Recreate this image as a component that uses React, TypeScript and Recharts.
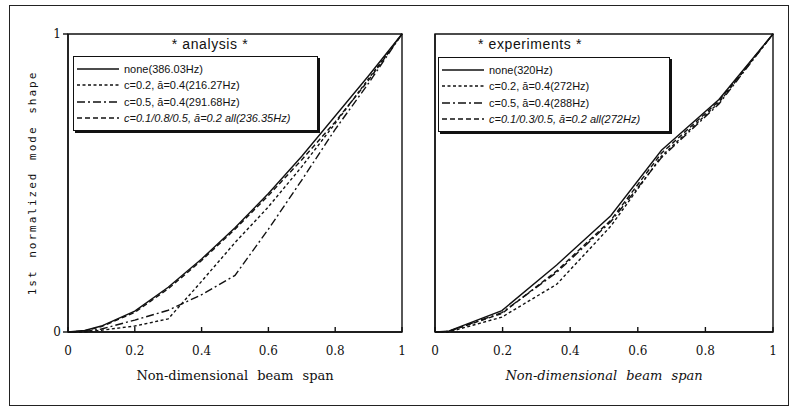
import { LineChart, Line, XAxis, YAxis, ReferenceArea, Legend } from "recharts";

// analysis (left panel)
const spanA = [0, 0.05, 0.1, 0.2, 0.3, 0.4, 0.5, 0.6, 0.7, 0.8, 0.9, 1];
const noneA = [0, 0.005, 0.02, 0.07, 0.15, 0.245, 0.35, 0.465, 0.59, 0.725, 0.86, 1];
const c02A = [0, 0, 0.006, 0.02, 0.044, 0.17, 0.3, 0.42, 0.555, 0.7, 0.85, 1];
const c05A = [0, 0.002, 0.01, 0.04, 0.073, 0.125, 0.19, 0.345, 0.51, 0.68, 0.835, 1];
const allA = [0, 0.004, 0.018, 0.066, 0.145, 0.24, 0.345, 0.458, 0.578, 0.705, 0.845, 1];

// experiments (right panel), measured stations
const spanE = [0, 0.04, 0.198, 0.36, 0.52, 0.67, 0.84, 1];
const noneE = [0, 0.003, 0.072, 0.225, 0.39, 0.61, 0.78, 1];
const c02E = [0, 0, 0.05, 0.16, 0.355, 0.59, 0.77, 1];
const c05E = [0, 0.002, 0.065, 0.2, 0.37, 0.585, 0.765, 1];
const allE = [0, 0.002, 0.062, 0.205, 0.375, 0.6, 0.775, 1];

const labelsA = ["none(386.03Hz)", "c=0.2, ā=0.4(216.27Hz)", "c=0.5, ā=0.4(291.68Hz)", "c=0.1/0.8/0.5, ā=0.2 all(236.35Hz)"];
const labelsE = ["none(320Hz)", "c=0.2, ā=0.4(272Hz)", "c=0.5, ā=0.4(288Hz)", "c=0.1/0.3/0.5, ā=0.2 all(272Hz)"];

const xTicks = [0, 0.2, 0.4, 0.6, 0.8, 1];
const yTicks = [0, 1];

const keys = ["none", "c02", "c05", "all"];
const dashes: (string | undefined)[] = [undefined, "3 2.5", "8 3 2 3", "5 3"];
const INK = "#111";

function rows(span: number[], cols: number[][]) {
  return span.map((x, i) => {
    const r: Record<string, number> = { x };
    keys.forEach((k, j) => (r[k] = cols[j][i]));
    return r;
  });
}

const dataA = rows(spanA, [noneA, c02A, c05A, allA]);
const dataE = rows(spanE, [noneE, c02E, c05E, allE]);

function LegendBox({ labels, width }: { labels: string[]; width: number }) {
  return (
    <div
      style={{
        width,
        boxSizing: "border-box",
        border: `1.2px solid ${INK}`,
        boxShadow: `2px 2px 0 ${INK}`,
        background: "#fff",
        padding: "4px 0 4px 3px",
        fontFamily: "Liberation Sans",
        fontSize: 11,
        color: INK,
      }}
    >
      {labels.map((l, i) => (
        <div key={l} style={{ display: "flex", alignItems: "center", height: 16.3 }}>
          <svg width={42} height={6}>
            <line x1={0} y1={3} x2={42} y2={3} stroke={INK} strokeWidth={1.4} strokeDasharray={dashes[i]} />
          </svg>
          <span style={{ marginLeft: 5, fontStyle: i === 3 ? "italic" : "normal", whiteSpace: "nowrap" }}>{l}</span>
        </div>
      ))}
    </div>
  );
}

const tickStyle = { fill: INK, fontFamily: "DejaVu Serif", fontSize: 12 };

function Panel({
  data,
  labels,
  left,
  width,
  showY,
  italicX,
  legendPos,
  legendWidth,
}: {
  data: Record<string, number>[];
  labels: string[];
  left: number;
  width: number;
  showY: boolean;
  italicX: boolean;
  legendPos: { left: number; top: number };
  legendWidth: number;
}) {
  return (
    <div style={{ position: "absolute", left, top: 0 }}>
      <LineChart width={width} height={400} data={data} margin={{ top: 34, right: 18, bottom: 0, left: 28 }}>
        <XAxis
          dataKey="x"
          type="number"
          domain={[0, 1]}
          ticks={xTicks}
          height={68}
          stroke={INK}
          strokeWidth={1.4}
          tickSize={-5}
          tickMargin={19}
          tick={tickStyle}
          label={{
            value: "Non-dimensional beam span",
            position: "insideBottom",
            offset: 20,
            style: {
              fill: INK,
              fontFamily: "DejaVu Serif",
              fontSize: 13,
              fontStyle: italicX ? "italic" : "normal",
              wordSpacing: 5,
            },
          }}
        />
        <YAxis
          type="number"
          domain={[0, 1]}
          ticks={yTicks}
          width={40}
          stroke={INK}
          strokeWidth={1.4}
          tickSize={showY ? 5 : 0}
          tickMargin={2}
          tick={showY ? tickStyle : false}
          label={
            showY
              ? {
                  value: "1st normalized mode shape",
                  angle: -90,
                  position: "insideLeft",
                  offset: 4,
                  style: {
                    textAnchor: "middle",
                    fill: INK,
                    fontFamily: "DejaVu Sans Mono",
                    fontSize: 11,
                    letterSpacing: 2,
                    wordSpacing: 3,
                  },
                }
              : undefined
          }
        />
        <ReferenceArea x1={0} x2={1} y1={0} y2={1} fill="none" stroke={INK} strokeWidth={1.4} />
        {keys.map((k, i) => (
          <Line
            key={k}
            dataKey={k}
            name={labels[i]}
            type="linear"
            stroke={INK}
            strokeWidth={1.4}
            strokeDasharray={dashes[i]}
            dot={false}
            isAnimationActive={false}
          />
        ))}
        <Legend
          layout="horizontal"
          verticalAlign="middle"
          align="center"
          wrapperStyle={{ left: legendPos.left, top: legendPos.top, width: "auto" }}
          content={() => <LegendBox labels={labels} width={legendWidth} />}
        />
      </LineChart>
    </div>
  );
}

const titleStyle = {
  position: "absolute" as const,
  top: 36,
  fontFamily: "Liberation Sans",
  fontSize: 14,
  color: INK,
  letterSpacing: 0.6,
  transform: "translateX(-50%)",
  whiteSpace: "nowrap" as const,
};

export default function App() {
  return (
    <div style={{ position: "absolute", left: 0, top: 0, width: 793, height: 408, background: "#fff" }}>
      <div
        style={{
          position: "absolute",
          left: 9,
          top: 5,
          width: 780,
          height: 401,
          boxSizing: "border-box",
          border: `1.5px solid #222`,
        }}
      />
      <Panel
        data={dataA}
        labels={labelsA}
        left={0}
        width={420}
        showY
        italicX={false}
        legendPos={{ left: 73, top: 56 }}
        legendWidth={245}
      />
      <Panel
        data={dataE}
        labels={labelsE}
        left={367}
        width={424}
        showY={false}
        italicX
        legendPos={{ left: 71, top: 57 }}
        legendWidth={232}
      />
      <div style={{ ...titleStyle, left: 210 }}>* analysis *</div>
      <div style={{ ...titleStyle, left: 530 }}>* experiments *</div>
    </div>
  );
}
